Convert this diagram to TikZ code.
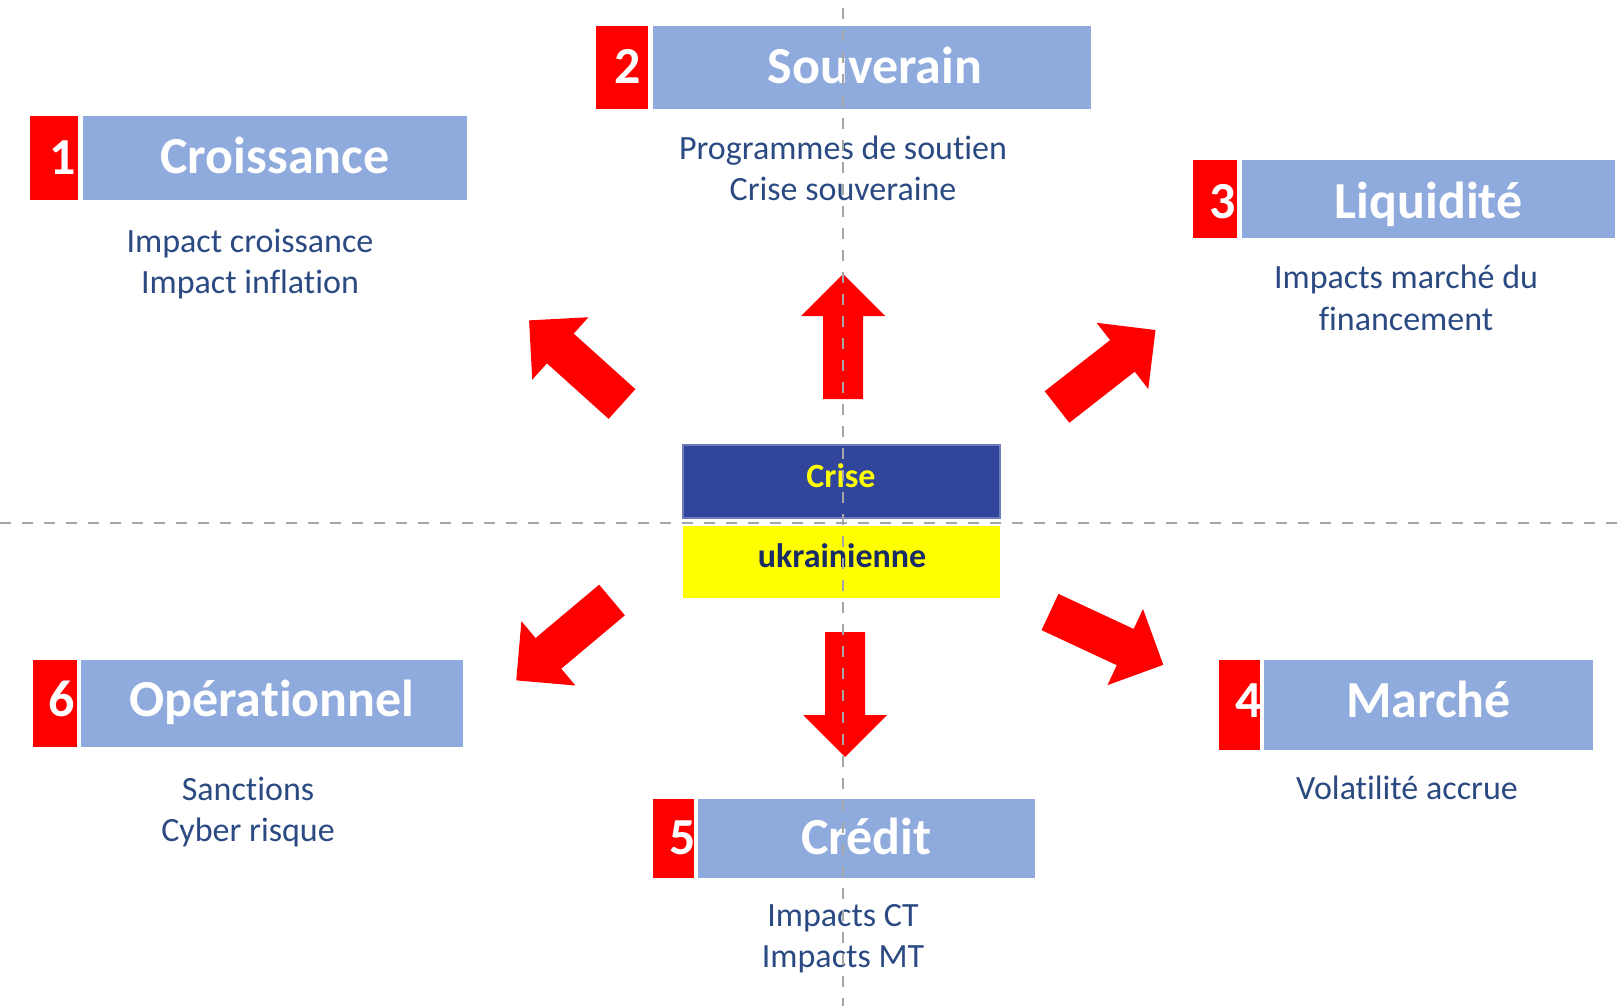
\documentclass[tikz,border=0pt]{standalone}
\usepackage{fontspec}
\setmainfont{Carlito}[Ligatures=NoCommon]
\definecolor{boxblue}{HTML}{8FAADC}
\definecolor{boxred}{HTML}{FF0000}
\definecolor{crisblue}{HTML}{30459B}
\definecolor{subtxt}{HTML}{2B4A82}
\definecolor{dashgray}{HTML}{A6A6A6}
\definecolor{ukrtxt}{HTML}{1A2C66}
\definecolor{crisyellow}{HTML}{FFFF00}
\begin{document}
\begin{tikzpicture}[x=1pt,y=-1pt,
  redsq/.style={fill=boxred, draw=none, inner sep=0pt, outer sep=0pt},
  bluebar/.style={fill=boxblue, draw=white, line width=4pt, inner sep=0pt, outer sep=0pt},
  numtxt/.style={anchor=base, inner sep=0pt, text=white, font=\fontsize{52}{60}\selectfont\bfseries},
  titletxt/.style={anchor=base, inner sep=0pt, text=white, font=\fontsize{52}{60}\selectfont\bfseries},
  subline/.style={anchor=base, inner sep=0pt, text=subtxt, font=\fontsize{34}{41}\selectfont},
  centertxt/.style={anchor=base, inner sep=0pt, font=\fontsize{34}{41}\selectfont\bfseries},
  dashline/.style={draw=dashgray, line width=2.6pt, dash pattern=on 11pt off 11pt},
  bigarrow/.pic={\fill[boxred] (0,-20) -- (83,-20) -- (83,-42) -- (125,0) -- (83,42) -- (83,20) -- (0,20) -- cycle;}
]
\useasboundingbox (0,0) rectangle (1621,1006);

% arrows from the centre
\coordinate (tU)  at (843,399);
\coordinate (tD)  at (845,632);
\coordinate (tUL) at (622,404);
\coordinate (tUR) at (1057,407);
\coordinate (tDL) at (612,600);
\coordinate (tDR) at (1050,612);
\pic[rotate=90]  at (tU)  {bigarrow};
\pic[rotate=-90] at (tD)  {bigarrow};
\pic[rotate=138] at (tUL) {bigarrow};
\pic[rotate=38]  at (tUR) {bigarrow};
\pic[rotate=220] at (tDL) {bigarrow};
\pic[rotate=-25] at (tDR) {bigarrow};

% centre
\node[fill=crisblue, draw=crisblue!70!white, line width=1.2pt, minimum width=317, minimum height=73, inner sep=0pt] (crise) at (841.5,481.5) {};
\node[fill=crisyellow, minimum width=317, minimum height=72, inner sep=0pt] (ukr) at (841.5,562) {};
\node[centertxt, text=crisyellow] (crisetxt) at (841,487) {Crise};
\node[centertxt, text=ukrtxt] (ukrtxt) at (842,567) {ukrainienne};

% box 1
\node[redsq, minimum width=48, minimum height=84] (r1) at (54,158) {};
\node[numtxt] (d1) at (63,174) {1};
\node[bluebar, minimum width=388, minimum height=88] (b1) at (275,158) {};
\node[titletxt] (t1) at (275,173) {Croissance};
\node[subline] (s1a) at (250,252) {Impact croissance};
\node[subline] (s1b) at (250,293) {Impact inflation};

% box 2
\node[redsq, minimum width=52, minimum height=83] (r2) at (622,67.5) {};
\node[numtxt] (d2) at (628,83.5) {2};
\node[bluebar, minimum width=442, minimum height=87] (b2) at (872,67.5) {};
\node[titletxt] (t2) at (875,83.5) {Souverain};
\node[subline] (s2a) at (843,159) {Programmes de soutien};
\node[subline] (s2b) at (843,200) {Crise souveraine};

% box 3
\node[redsq, minimum width=44, minimum height=78] (r3) at (1215,199) {};
\node[numtxt] (d3) at (1223,218) {3};
\node[bluebar, minimum width=377, minimum height=82] (b3) at (1428.5,199) {};
\node[titletxt] (t3) at (1428.5,218) {Liquidité};
\node[subline] (s3a) at (1406,288) {Impacts marché du};
\node[subline] (s3b) at (1406,330) {financement};

% box 4
\node[redsq, minimum width=41, minimum height=90] (r4) at (1239.5,705) {};
\node[numtxt] (d4) at (1249,717) {4};
\node[bluebar, minimum width=333, minimum height=94] (b4) at (1428.5,705) {};
\node[titletxt] (t4) at (1428.5,717) {Marché};
\node[subline] (s4a) at (1407,799) {Volatilité accrue};

% box 5
\node[redsq, minimum width=42, minimum height=79] (r5) at (674,838.5) {};
\node[numtxt] (d5) at (683,854.5) {5};
\node[bluebar, minimum width=341, minimum height=83] (b5) at (866.5,838.5) {};
\node[titletxt] (t5) at (866.5,854.5) {Crédit};
\node[subline] (s5a) at (843,926) {Impacts CT};
\node[subline] (s5b) at (843,967) {Impacts MT};

% box 6
\node[redsq, minimum width=45, minimum height=87] (r6) at (55.5,703.5) {};
\node[numtxt] (d6) at (62,716) {6};
\node[bluebar, minimum width=386, minimum height=91] (b6) at (272,703.5) {};
\node[titletxt] (t6) at (272,716) {Opérationnel};
\node[subline] (s6a) at (248,800) {Sanctions};
\node[subline] (s6b) at (248,841) {Cyber risque};

% axes
\coordinate (vtop) at (843,8);
\coordinate (vbot) at (843,1006);
\coordinate (hleft) at (0,523);
\coordinate (hright) at (1621,523);
\draw[dashline] (vtop) -- (vbot);
\draw[dashline] (hleft) -- (hright);
\end{tikzpicture}
\end{document}
